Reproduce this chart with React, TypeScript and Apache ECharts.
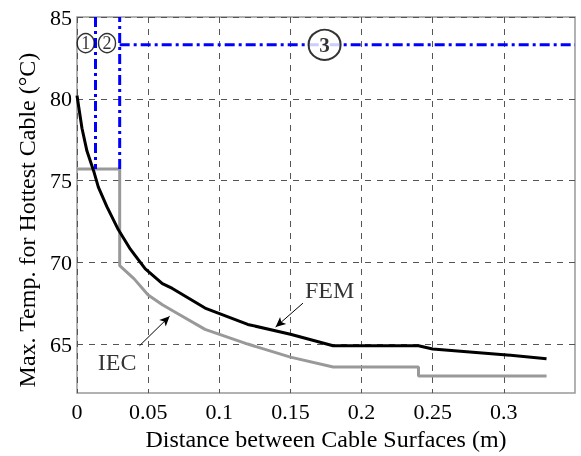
import React, { useEffect, useRef } from "react";
import * as echarts from "echarts";

const xTicks = [0, 0.05, 0.1, 0.15, 0.2, 0.25, 0.3];
const yTicks = [65, 70, 75, 80, 85];

const femData: [number, number][] = [
  [0, 80.2], [0.0035, 78.2], [0.007, 76.8], [0.012, 75.5], [0.015, 74.6],
  [0.021, 73.4], [0.029, 72.0], [0.0375, 70.8], [0.048, 69.6], [0.06, 68.7],
  [0.067, 68.4], [0.09, 67.2], [0.12, 66.2], [0.15, 65.6], [0.18, 64.9],
  [0.24, 64.9], [0.25, 64.7], [0.3, 64.35], [0.33, 64.1],
];

const iecData: [number, number][] = [
  [0, 75.7], [0.03, 75.7], [0.03, 69.8], [0.04, 69.0], [0.05, 68.0],
  [0.06, 67.4], [0.07, 66.9], [0.09, 65.9], [0.12, 65.0], [0.15, 64.2],
  [0.18, 63.6], [0.24, 63.6], [0.24, 63.05], [0.33, 63.05],
];

const limit1: [number, number][] = [[0.013, 85], [0.013, 75.7]];
const limit2: [number, number][] = [[0.03, 75.7], [0.03, 85]];
const limit3: [number, number][] = [[0.03, 83.3], [0.35, 83.3]];

const zoneLabels = [
  { name: "1", pos: [0.0061, 83.4], size: [17, 19], font: 18, bold: false, bw: 1.5 },
  { name: "2", pos: [0.0211, 83.4], size: [17, 19], font: 18, bold: false, bw: 1.5 },
  { name: "3", pos: [0.174, 83.3], size: [32, 30], font: 21, bold: true, bw: 2 },
];

const curveLabels = [
  { name: "FEM", pos: [0.1775, 68.3], arrowFrom: [0.1588, 67.5], arrowTo: [0.1396, 66.04] },
  { name: "IEC", pos: [0.0282, 63.93], arrowFrom: [0.044, 64.9], arrowTo: [0.0651, 66.7] },
];

const FONT = "Liberation Serif";

export default function App() {
  const ref = useRef<HTMLDivElement>(null);
  useEffect(() => {
    if (!ref.current) return;
    const chart = echarts.init(ref.current, null, { renderer: "svg" });
    const dash = [10, 4, 3, 4];
    const blueLine = (data: [number, number][]) => ({
      type: "line",
      data,
      symbol: "none",
      lineStyle: { color: "#0000ff", width: 3, type: dash },
      z: 3,
    });
    chart.setOption({
      animation: false,
      textStyle: { fontFamily: FONT },
      grid: {
        left: 77, top: 17, right: 6, bottom: 56,
        show: true, borderColor: "#999", borderWidth: 1.5,
      },
      xAxis: {
        type: "value",
        min: 0, max: 0.35, interval: 0.05,
        name: "Distance between Cable Surfaces (m)",
        nameLocation: "middle",
        nameGap: 30,
        nameTextStyle: { fontFamily: FONT, fontSize: 24, color: "#000" },
        axisLine: { show: false },
        axisTick: { show: false, customValues: xTicks },
        axisLabel: {
          customValues: xTicks,
          fontFamily: FONT, fontSize: 22, color: "#000", margin: 7,
          formatter: (v: number) => String(+v.toFixed(2)),
        },
        splitLine: { show: true, lineStyle: { color: "#555", type: [6, 6], width: 1 } },
      },
      yAxis: {
        type: "value",
        min: 62, max: 85,
        name: "Max. Temp. for Hottest Cable (°C)",
        nameLocation: "middle",
        nameGap: 37,
        nameTextStyle: { fontFamily: FONT, fontSize: 24, color: "#000", padding: [0, 30, 0, 0] },
        axisLine: { show: false },
        axisTick: { show: false, customValues: yTicks },
        axisLabel: {
          customValues: yTicks,
          fontFamily: FONT, fontSize: 22, color: "#000", margin: 5,
        },
        splitLine: { show: true, lineStyle: { color: "#555", type: [6, 6], width: 1 } },
      },
      series: [
        {
          type: "line", name: "IEC", data: iecData, symbol: "none",
          lineStyle: { color: "#999", width: 3 }, z: 2,
        },
        {
          type: "line", name: "FEM", data: femData, symbol: "none",
          lineStyle: { color: "#000", width: 3 }, z: 2,
        },
        blueLine(limit1),
        blueLine(limit2),
        blueLine(limit3),
        {
          type: "scatter",
          z: 5,
          data: zoneLabels.map((z) => ({
            value: z.pos,
            symbolSize: z.size,
            itemStyle: { color: "#fff", borderColor: "#000", borderWidth: z.bw },
            label: {
              show: true, position: "inside", formatter: z.name,
              fontFamily: FONT, fontSize: z.font, textBorderWidth: 0,
              fontWeight: z.bold ? "bold" : "normal", color: "#000",
            },
          })),
          symbol: "circle",
        },
        {
          type: "scatter",
          z: 5,
          symbolSize: 0,
          data: curveLabels.map((c) => ({
            value: c.pos,
            label: {
              show: true, position: "inside", formatter: c.name,
              fontFamily: FONT, fontSize: 24, color: "#000", textBorderWidth: 0,
            },
          })),
          markLine: {
            silent: true,
            symbol: ["none", "arrow"],
            symbolSize: [7, 10],
            label: { show: false },
            lineStyle: { color: "#000", width: 1, type: "solid" },
            data: curveLabels.map((c) => [
              { coord: c.arrowFrom },
              { coord: c.arrowTo },
            ]),
          },
        },
      ],
    });
    return () => chart.dispose();
  }, []);
  return (
    <div
      ref={ref}
      style={{ position: "fixed", left: 0, top: 0, width: 581, height: 456 }}
    />
  );
}
